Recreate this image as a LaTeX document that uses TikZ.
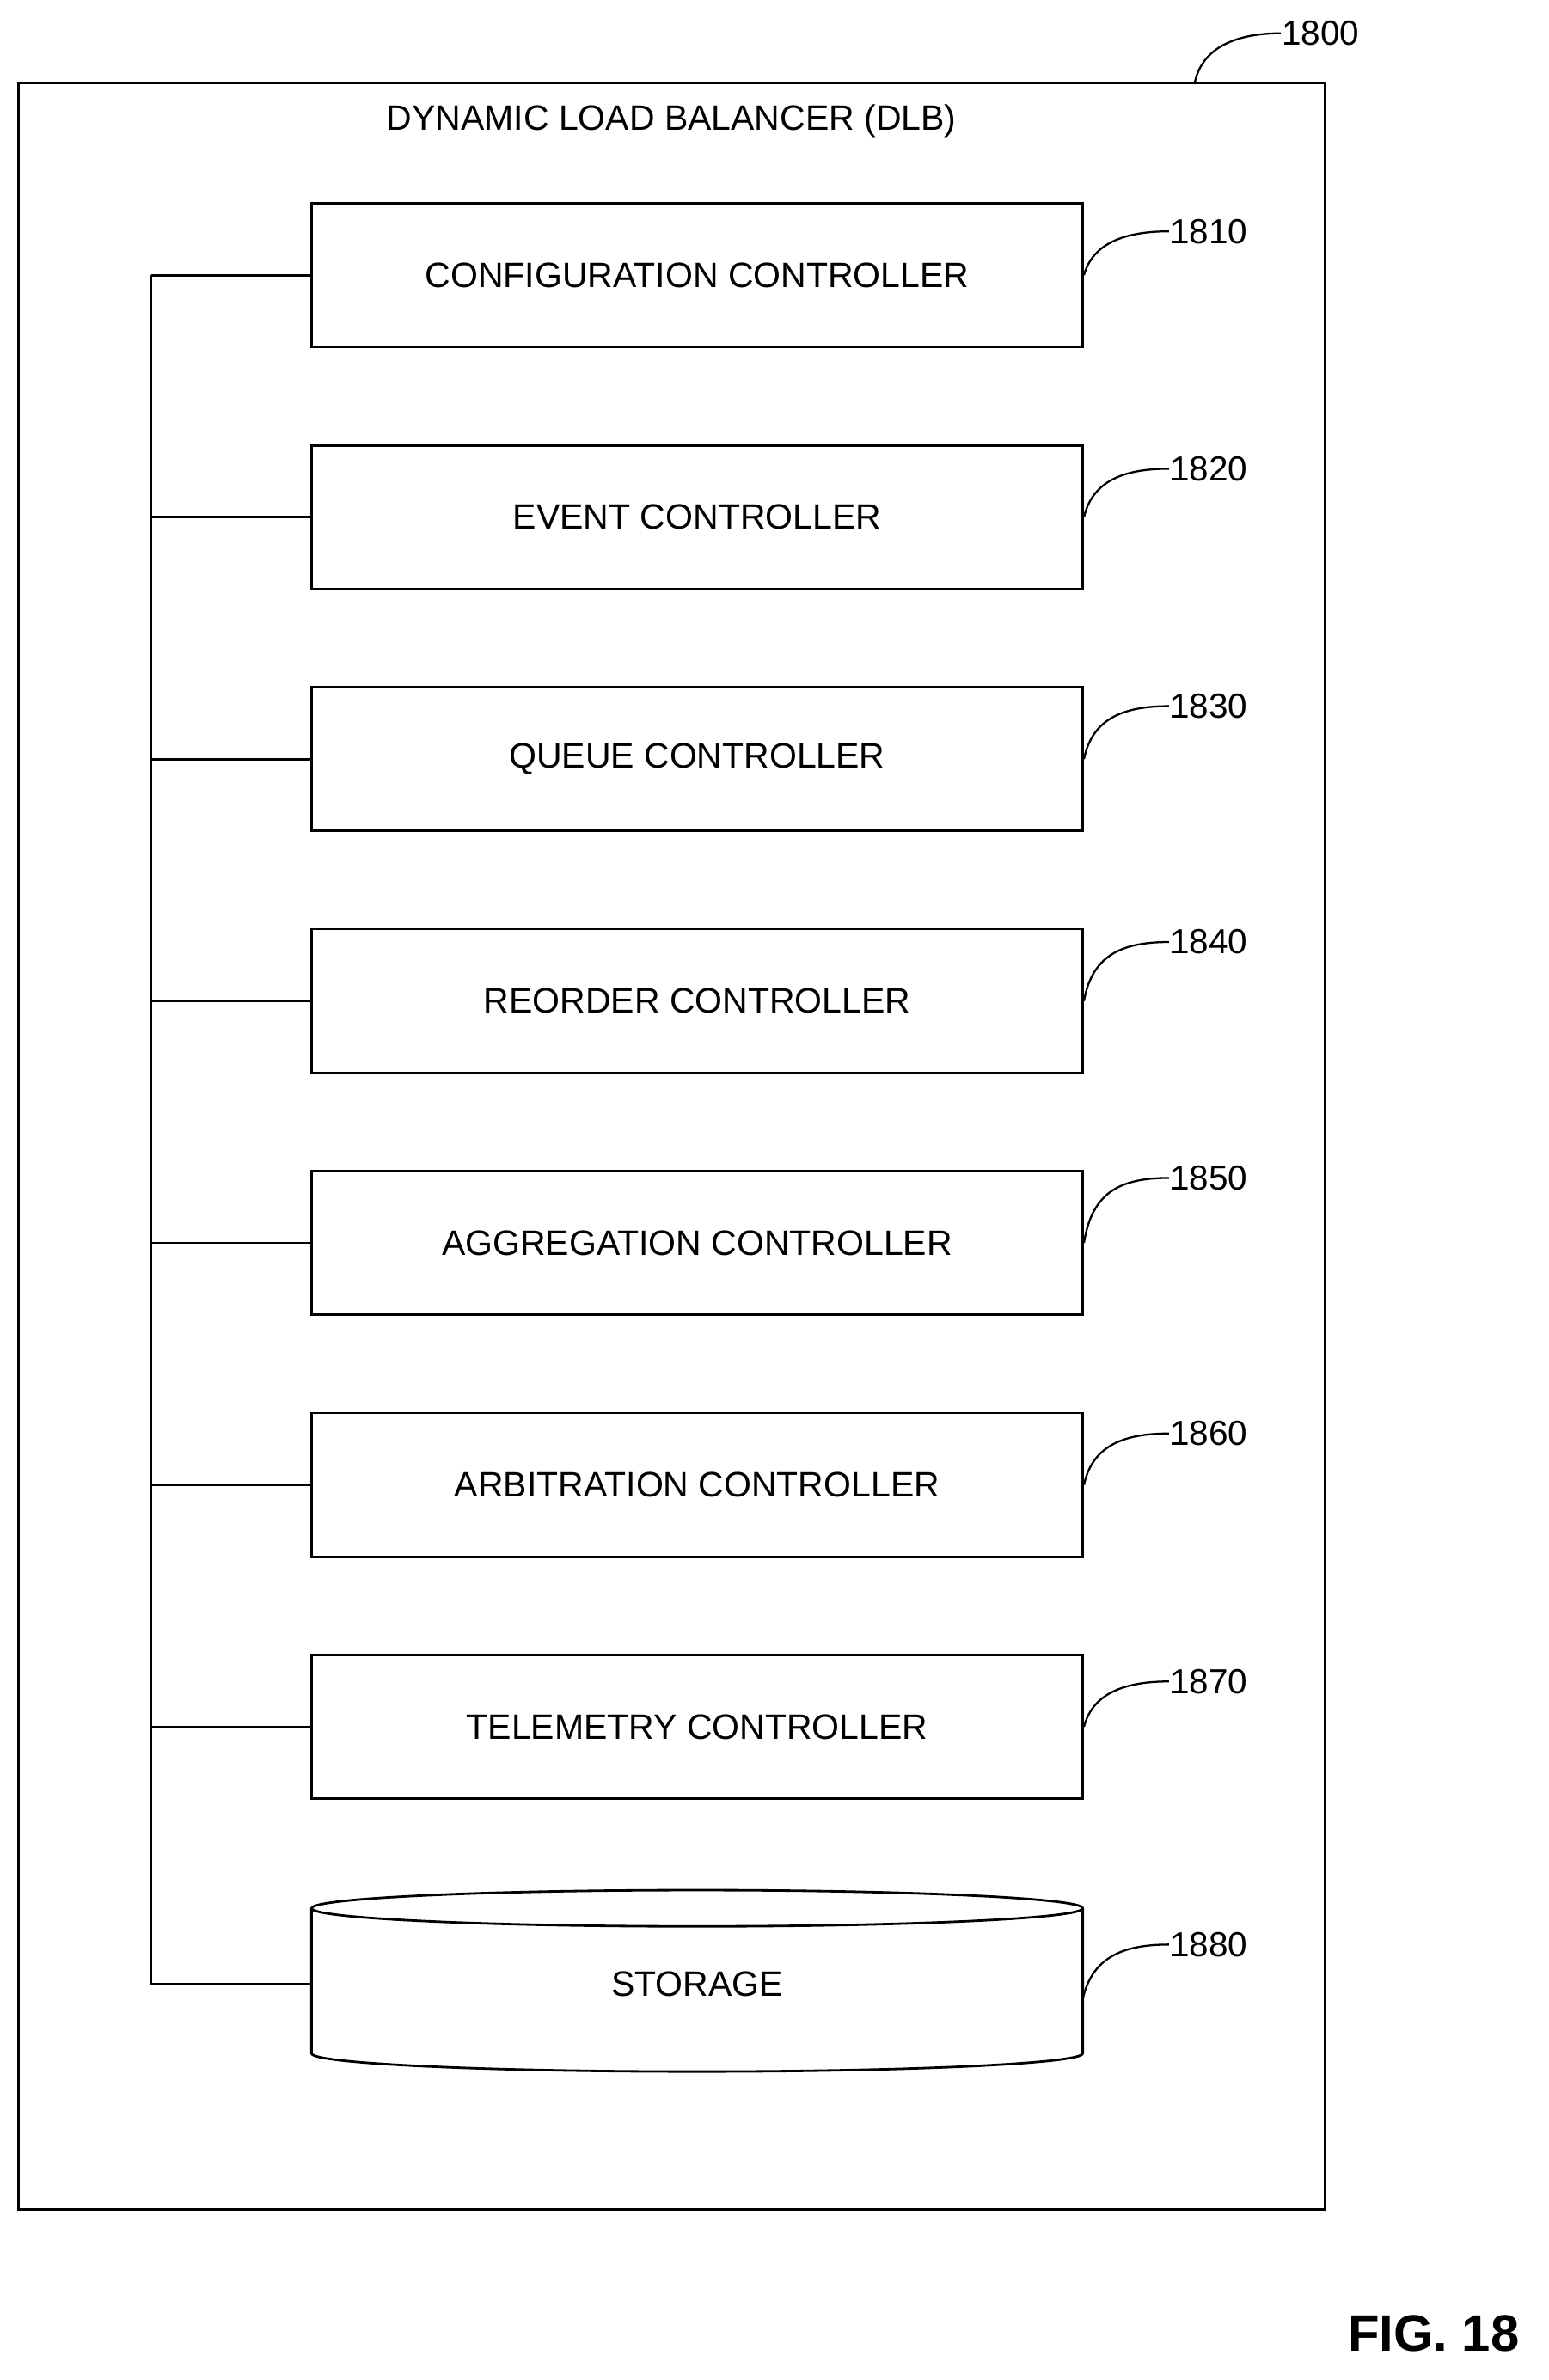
\documentclass[tikz,border=0pt]{standalone}
\usepackage{fontspec}
\setmainfont{Liberation Sans}
\begin{document}
\begin{tikzpicture}[x=1pt,y=-1pt,line width=1.6pt,
 box/.style={draw,minimum width=510pt,minimum height=95pt,inner sep=0pt,font=\fontsize{23.3}{28}\selectfont},
 lab/.style={font=\fontsize{23}{27}\selectfont,anchor=west,inner sep=0pt},
 lead/.style={line width=1.3pt}]
\useasboundingbox (0,0) rectangle (1024,1574);
\node[draw,minimum width=864pt,minimum height=1406pt,inner sep=0pt] (outer) at (444,758) {};
\node[font=\fontsize{23.3}{28}\selectfont] (title) at (444,80) {DYNAMIC LOAD BALANCER (DLB)};
\node[lab] (l1800) at (847,22) {1800};
\coordinate (c1800) at (790,55);
\draw[lead] (c1800) .. controls (795,30) and (820,22) .. (l1800.west);
\coordinate (bustop) at (100,182);
\foreach \n/\t/\y/\ly in {1/CONFIGURATION CONTROLLER/182/153,2/EVENT CONTROLLER/342/310,3/QUEUE CONTROLLER/502/467,4/REORDER CONTROLLER/662/623,5/AGGREGATION CONTROLLER/822/779,6/ARBITRATION CONTROLLER/982/948,7/TELEMETRY CONTROLLER/1142/1112}{
 \node[box] (b\n) at (461,\y) {\t};
 \node[lab] (l\n) at (773,\ly) {18\n0};
 \coordinate (j\n) at (100,\y);
 \draw (j\n) -- (b\n.west);
 \draw[lead] (b\n.east) .. controls (722,\ly+10) and (740,\ly) .. (l\n.west);
}
\draw (206,1262) arc[start angle=180,end angle=-180,x radius=255pt,y radius=12pt]
      (206,1262) -- (206,1358) arc[start angle=180,end angle=360,x radius=255pt,y radius=12pt] -- (716,1262);
\node[minimum width=510pt,minimum height=96pt,inner sep=0pt,font=\fontsize{23.3}{28}\selectfont] (st) at (461,1312) {STORAGE};
\node[lab] (l8) at (773,1286) {1880};
\draw[lead] (716,1322) .. controls (722,1296) and (740,1286) .. (l8.west);
\coordinate (j8) at (100,1312);
\draw (bustop) -- (j8) -- (st.west);
\node[font=\bfseries\fontsize{34}{40}\selectfont] (fig) at (948,1543) {FIG. 18};
\end{tikzpicture}
\end{document}
